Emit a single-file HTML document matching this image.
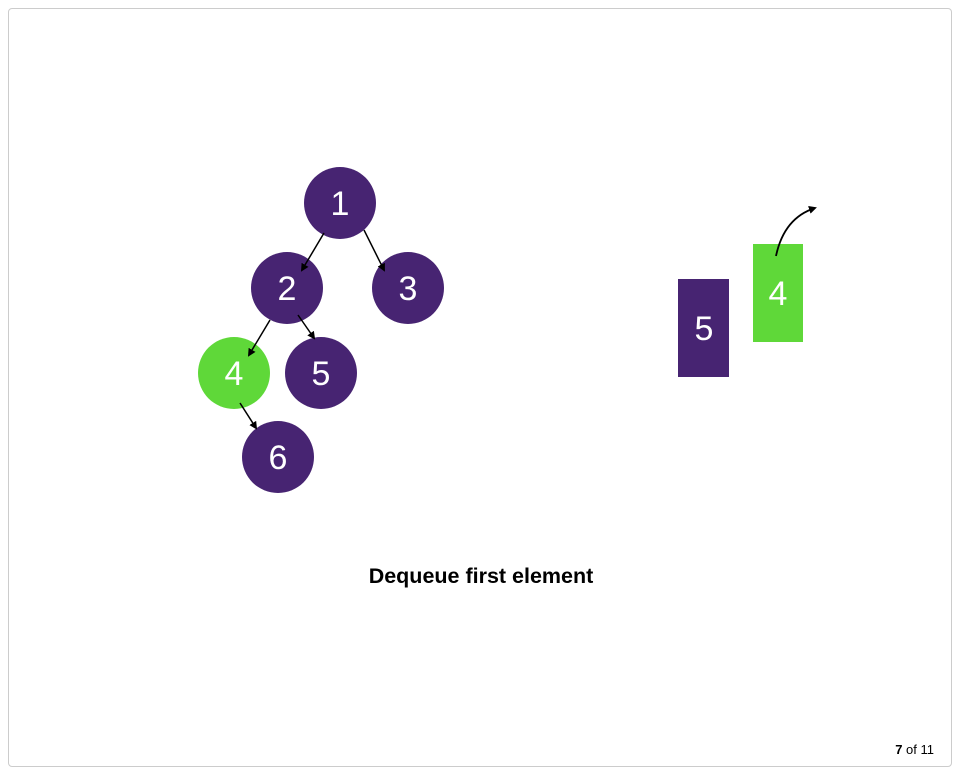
<!DOCTYPE html>
<html><head><meta charset="utf-8"><style>
body{margin:0;background:#fff;font-family:"Liberation Sans",sans-serif}
#frame{position:absolute;left:8px;top:8px;width:942px;height:757px;border:1px solid #ccc;border-radius:4px}
</style></head><body>
<div id="frame"></div>
<svg width="958" height="771" style="position:absolute;left:0;top:0">
<defs><marker id="ah" markerWidth="8" markerHeight="8" refX="6" refY="4" orient="auto" markerUnits="userSpaceOnUse"><path d="M0,0 L8,4 L0,8 z" fill="#000"/></marker></defs>
<g font-size="34" fill="#fff" text-anchor="middle">
<g><circle cx="340" cy="203" r="36" fill="#472472"/><text x="340" y="215">1</text></g>
<g><circle cx="287" cy="288" r="36" fill="#472472"/><text x="287" y="300">2</text></g>
<g><circle cx="408" cy="288" r="36" fill="#472472"/><text x="408" y="300">3</text></g>
<g><circle cx="234" cy="373" r="36" fill="#5fd839"/><text x="234" y="385">4</text></g>
<g><circle cx="321" cy="373" r="36" fill="#472472"/><text x="321" y="385">5</text></g>
<g><circle cx="278" cy="457" r="36" fill="#472472"/><text x="278" y="469">6</text></g>
<g><rect x="678" y="279" width="51" height="98" fill="#472472"/><text x="704" y="340">5</text></g>
<g><rect x="753" y="244" width="50" height="98" fill="#5fd839"/><text x="778" y="305">4</text></g>
</g>
<g stroke="#000" stroke-width="1.5" marker-end="url(#ah)">
<line x1="324" y1="233" x2="302" y2="270"/>
<line x1="364" y1="230" x2="384" y2="270"/>
<line x1="270" y1="320" x2="249" y2="355"/>
<line x1="298" y1="315" x2="314" y2="338"/>
<line x1="240" y1="403" x2="256" y2="428"/>
</g>
<path d="M776,256 Q784,218 815,208" fill="none" stroke="#000" stroke-width="1.8" marker-end="url(#ah)"/>
<text x="481" y="583" font-size="21.5" font-weight="bold" text-anchor="middle" fill="#000">Dequeue first element</text>
<text x="934" y="754" font-size="13" text-anchor="end" fill="#000"><tspan font-weight="bold">7</tspan> of 11</text>
</svg>
</body></html>
